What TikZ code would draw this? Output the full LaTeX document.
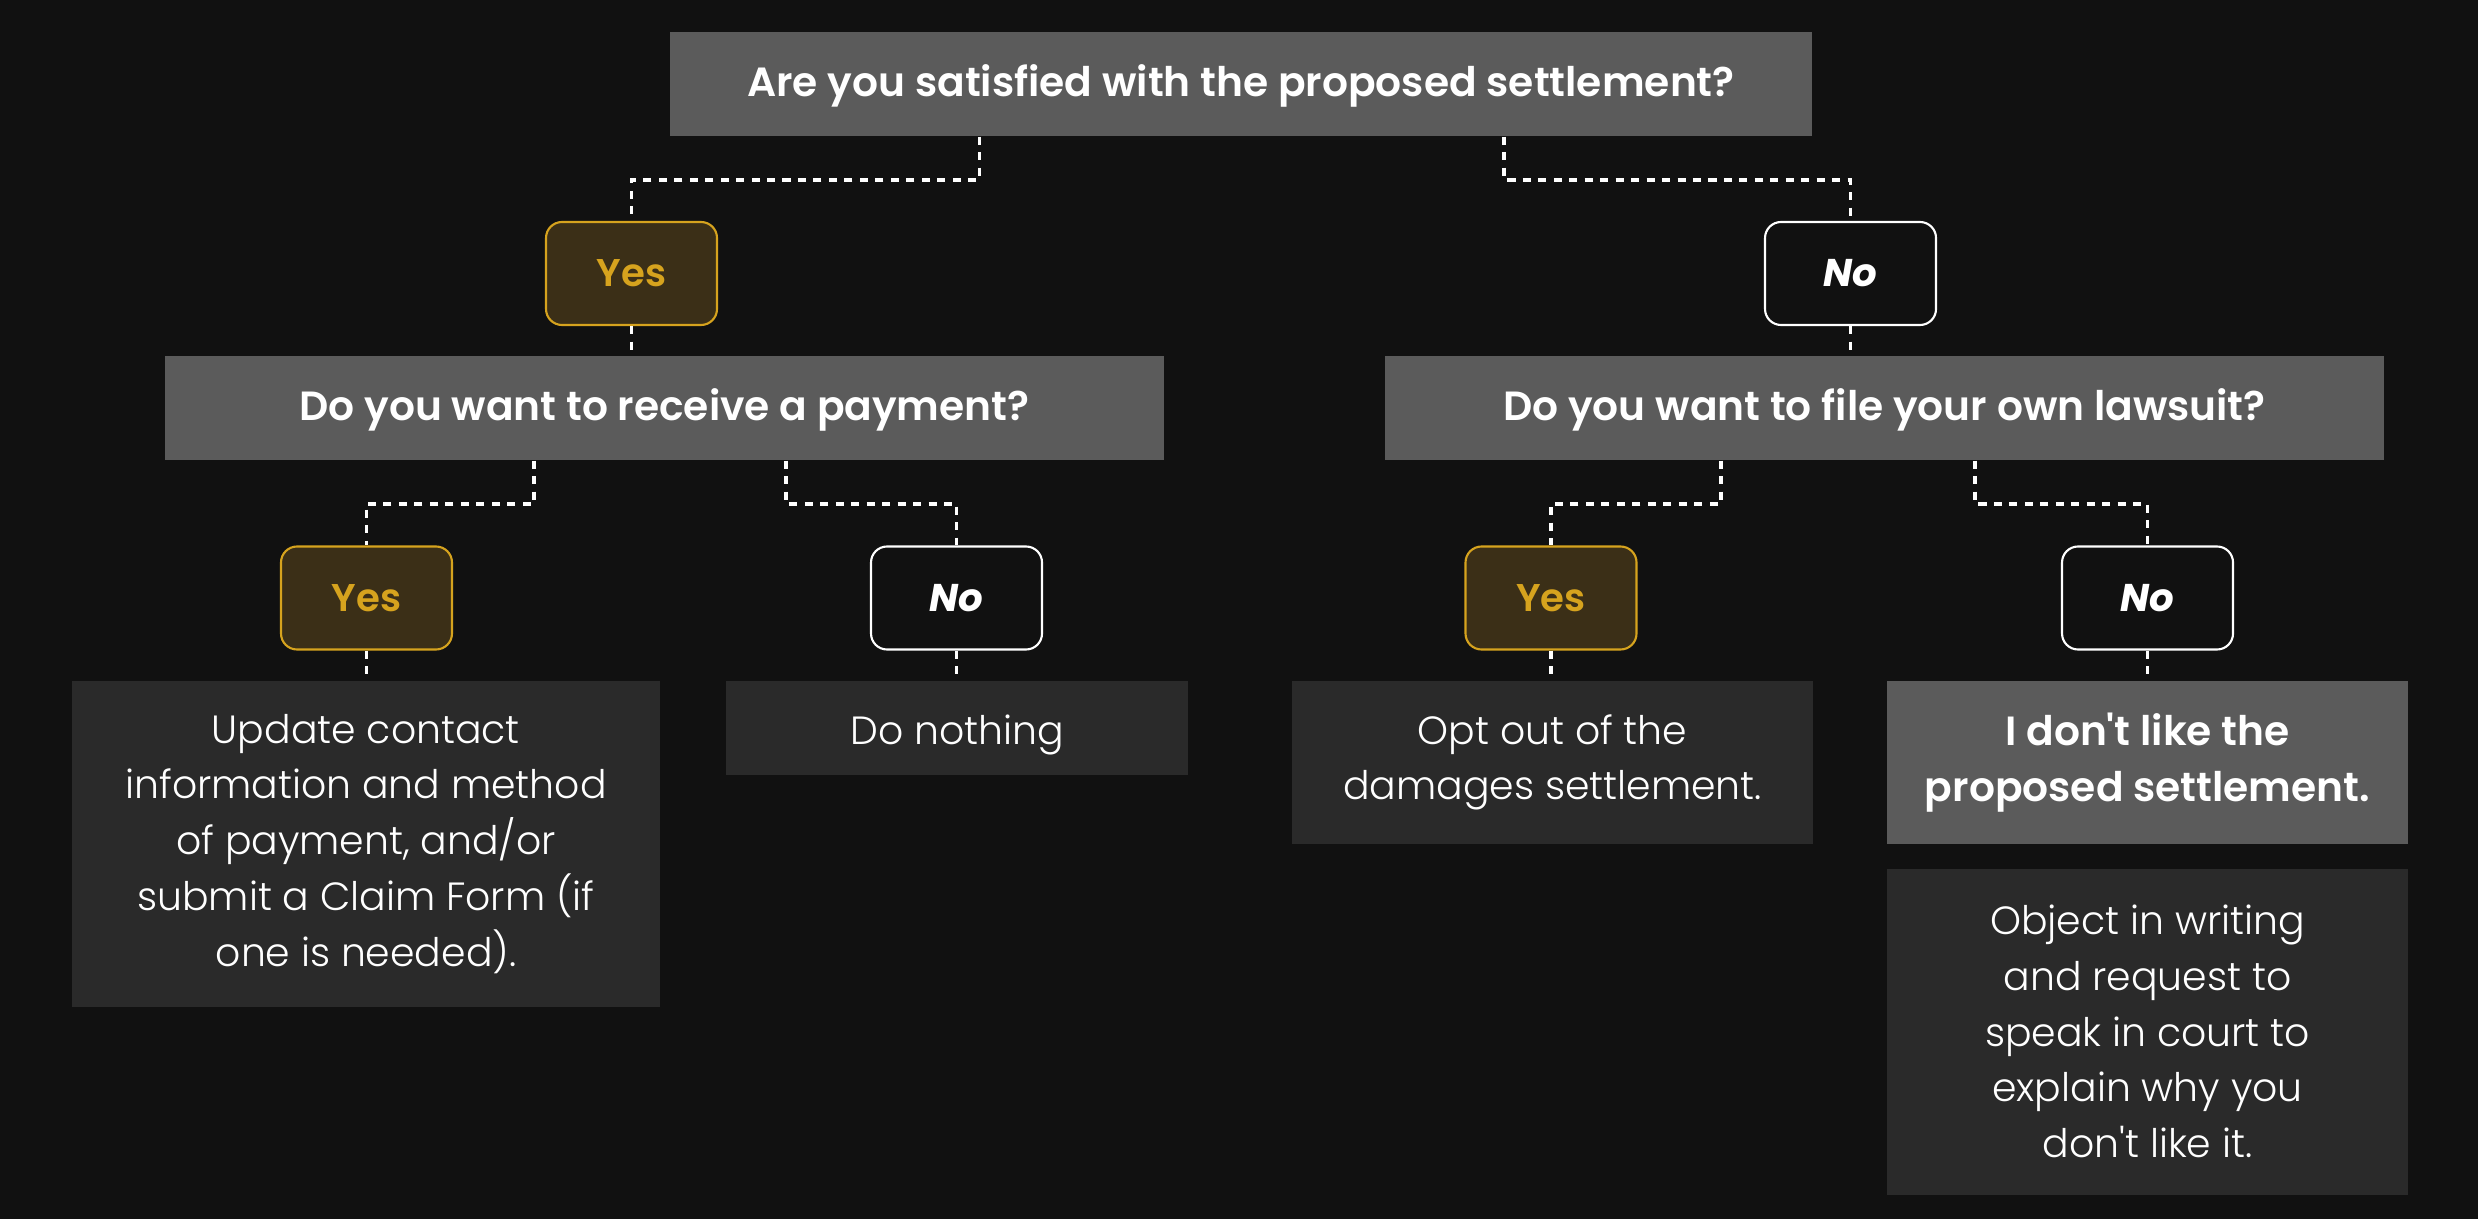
\documentclass[tikz,border=0pt]{standalone}
\usepackage{fontspec}
\setmainfont{Poppins}
\newfontfamily\lightfont{Poppins Light}
\newfontfamily\semifont{Poppins SemiBold}
\usepackage{xcolor}
\usepackage{tikz}
\usetikzlibrary{positioning, calc}
\definecolor{bgColor}{HTML}{111111}
\definecolor{qColor}{HTML}{5B5B5B}
\definecolor{aColor}{HTML}{2A2A2A}
\definecolor{yesFill}{HTML}{3B2F17}
\definecolor{yesColor}{HTML}{D6A31E}
\tikzset{
    question/.style={
        fill=qColor,
        text=white,
        font=\semifont\fontsize{11.6}{15.85}\selectfont,
        text height=0.95em,
        text depth=0.25em,
        inner sep=0pt
    },
    answer/.style={
        fill=aColor,
        text=white,
        font=\lightfont\fontsize{11.2}{15.85}\selectfont,
        execute at begin node={\rule{0pt}{1.1em}},
        align=center,
        inner sep=0pt,
        anchor=north
    },
    yesnode/.style={
        draw=yesColor,
        fill=yesFill,
        text=yesColor,
        line width=0.6pt,
        rounded corners=0.16cm,
        minimum width=1.71cm,
        minimum height=1.03cm,
        font=\semifont\fontsize{11}{14}\selectfont
    },
    nonode/.style={
        yesnode,
        draw=white,
        fill=bgColor,
        text=white,
        font=\bfseries\itshape\fontsize{11}{14}\selectfont
    },
    link/.style={
        draw=white,
        line width=1.1pt,
        dash pattern=on 2.3pt off 2.1pt
    }
}

\begin{document}
\begin{tikzpicture}[node distance=0.23cm]
        \fill[bgColor] (0,0) rectangle (24.78,-12.19);
        \useasboundingbox (0,0) rectangle (24.78,-12.19);

        \node[question, minimum width=11.42cm, minimum height=1.04cm] (top) at (12.41,-0.84) {Are you satisfied with the proposed settlement?};
        \node[yesnode] (yes1) at (6.315,-2.735) {Yes};
        \node[nonode] (no1) at (18.505,-2.735) {No};

        \node[question, minimum width=9.99cm, minimum height=1.04cm] (receive) at (6.645,-4.08) {Do you want to receive a payment?};
        \node[question, minimum width=9.99cm, minimum height=1.04cm] (lawsuit) at (18.845,-4.08) {Do you want to file your own lawsuit?};

        \node[yesnode] (yes2) at (3.665,-5.98) {Yes};
        \node[nonode] (no2) at (9.565,-5.98) {No};
        \node[yesnode] (yes3) at (15.51,-5.98) {Yes};
        \node[nonode] (no3) at (21.475,-5.98) {No};

        \node[answer, minimum width=5.88cm, minimum height=3.26cm] (update) at (3.66,-6.80) {Update contact\\information and method\\of payment, and/or\\submit a Claim Form (if\\one is needed).};
        \node[answer, minimum width=4.62cm, minimum height=0.94cm] (nothing) at (9.57,-6.80) {Do nothing};
        \node[answer, minimum width=5.21cm, minimum height=1.635cm] (optout) at (15.525,-6.80) {Opt out of the\\damages settlement.};
        \node[answer, fill=qColor, font=\semifont\fontsize{11.6}{15.85}\selectfont, minimum width=5.21cm, minimum height=1.635cm] (dislike) at (21.475,-6.80) {I don't like the\\proposed settlement.};
        \node[answer, minimum width=5.21cm, minimum height=3.26cm, below=of dislike] (object) {Object in writing\\and request to\\speak in court to\\explain why you\\don't like it.};

        \draw[link] ([xshift=-2.615cm]top.south) -- ++(0,-0.43) -| (yes1.north);
        \draw[link] ([xshift=2.63cm]top.south) -- ++(0,-0.43) -| (no1.north);
        \draw[link] (yes1.south) -- (yes1.south |- receive.north);
        \draw[link] (no1.south) -- (no1.south |- lawsuit.north);

        \draw[link] ([xshift=-1.305cm]receive.south) -- ++(0,-0.43) -| (yes2.north);
        \draw[link] ([xshift=1.215cm]receive.south) -- ++(0,-0.43) -| (no2.north);
        \draw[link] ([xshift=-1.635cm]lawsuit.south) -- ++(0,-0.43) -| (yes3.north);
        \draw[link] ([xshift=0.905cm]lawsuit.south) -- ++(0,-0.43) -| (no3.north);

        \draw[link] (yes2.south) -- (yes2.south |- update.north);
        \draw[link] (no2.south) -- (no2.south |- nothing.north);
        \draw[link] (yes3.south) -- (yes3.south |- optout.north);
        \draw[link] (no3.south) -- (no3.south |- dislike.north);
    \end{tikzpicture}
\end{document}
